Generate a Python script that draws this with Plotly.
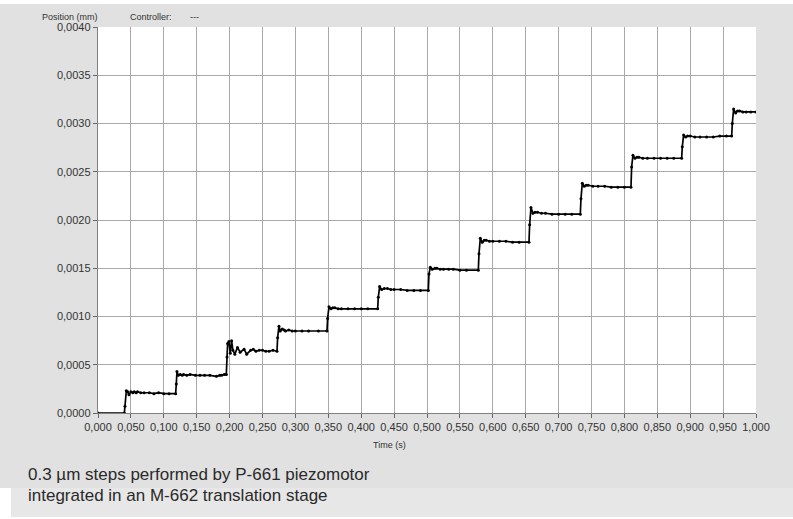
import plotly.graph_objects as go

# ---- data (time in s, position in mm) ----
time_s = [
    0.000, 0.040, 0.041, 0.043, 0.045, 0.047, 0.050, 0.053, 0.055, 0.058, 0.060, 0.065, 0.070, 0.078, 0.085, 0.092, 0.100, 0.108, 0.118,
    0.119, 0.120, 0.122, 0.125, 0.128, 0.130, 0.135, 0.140, 0.148, 0.155, 0.162, 0.170, 0.180, 0.185, 0.188, 0.192, 0.195,
    0.196, 0.197, 0.199, 0.201, 0.203, 0.205, 0.208, 0.212, 0.216, 0.222, 0.226, 0.232, 0.236, 0.240, 0.245, 0.250, 0.255, 0.260, 0.266, 0.272,
    0.273, 0.275, 0.277, 0.280, 0.283, 0.285, 0.290, 0.295, 0.300, 0.310, 0.320, 0.335, 0.348,
    0.349, 0.351, 0.354, 0.357, 0.360, 0.365, 0.370, 0.380, 0.390, 0.400, 0.410, 0.425,
    0.426, 0.428, 0.431, 0.435, 0.440, 0.445, 0.450, 0.460, 0.470, 0.480, 0.490, 0.502,
    0.503, 0.505, 0.508, 0.512, 0.515, 0.520, 0.525, 0.533, 0.540, 0.550, 0.560, 0.578,
    0.579, 0.581, 0.584, 0.587, 0.590, 0.595, 0.600, 0.610, 0.620, 0.630, 0.640, 0.655,
    0.656, 0.658, 0.661, 0.664, 0.668, 0.674, 0.680, 0.690, 0.700, 0.710, 0.720, 0.733,
    0.734, 0.736, 0.739, 0.742, 0.745, 0.752, 0.760, 0.770, 0.780, 0.790, 0.800, 0.810,
    0.811, 0.813, 0.816, 0.819, 0.822, 0.828, 0.835, 0.845, 0.855, 0.865, 0.875, 0.887,
    0.888, 0.890, 0.893, 0.896, 0.900, 0.907, 0.915, 0.925, 0.935, 0.945, 0.955, 0.963,
    0.964, 0.966, 0.969, 0.972, 0.975, 0.980, 0.985, 0.992, 1.000,
]
position_mm = [
    0.0, 0.0, 0.00007, 0.00023, 0.00022, 0.00019, 0.00022, 0.00021, 0.00022, 0.00021, 0.00022, 0.00021, 0.00021, 0.00021, 0.00020, 0.00021, 0.00020, 0.00020, 0.00020,
    0.00030, 0.00043, 0.00039, 0.00040, 0.00039, 0.00040, 0.00039, 0.00040, 0.00039, 0.00039, 0.00039, 0.00039, 0.00038, 0.00039, 0.00039, 0.00040, 0.00040,
    0.00058, 0.00072, 0.00074, 0.00062, 0.00075, 0.00065, 0.00061, 0.00068, 0.00063, 0.00066, 0.00061, 0.00065, 0.00066, 0.00064, 0.00065, 0.00065, 0.00064, 0.00064, 0.00065, 0.00064,
    0.00078, 0.00090, 0.00085, 0.00087, 0.00086, 0.00085, 0.00086, 0.00085, 0.00085, 0.00085, 0.00085, 0.00085, 0.00085,
    0.00098, 0.00110, 0.00108, 0.00109, 0.00109, 0.00108, 0.00108, 0.00108, 0.00108, 0.00108, 0.00108, 0.00108,
    0.00120, 0.00131, 0.00128, 0.00129, 0.00129, 0.00128, 0.00128, 0.00128, 0.00127, 0.00127, 0.00127, 0.00127,
    0.00144, 0.00151, 0.00149, 0.00150, 0.00150, 0.00149, 0.00149, 0.00149, 0.00149, 0.00148, 0.00148, 0.00148,
    0.00165, 0.00181, 0.00177, 0.00179, 0.00179, 0.00178, 0.00178, 0.00178, 0.00178, 0.00177, 0.00177, 0.00177,
    0.00195, 0.00213, 0.00207, 0.00208, 0.00208, 0.00207, 0.00207, 0.00206, 0.00206, 0.00206, 0.00206, 0.00206,
    0.00222, 0.00238, 0.00235, 0.00236, 0.00236, 0.00235, 0.00235, 0.00235, 0.00234, 0.00234, 0.00234, 0.00234,
    0.00255, 0.00267, 0.00264, 0.00265, 0.00265, 0.00264, 0.00264, 0.00264, 0.00264, 0.00264, 0.00264, 0.00264,
    0.00276, 0.00288, 0.00286, 0.00287, 0.00287, 0.00286, 0.00286, 0.00286, 0.00286, 0.00287, 0.00287, 0.00287,
    0.00300, 0.00315, 0.00311, 0.00313, 0.00313, 0.00312, 0.00312, 0.00312, 0.00312,
]

x_ticks = [0.05 * i for i in range(21)]
y_ticks = [0.0005 * i for i in range(9)]

W, H = 793, 519
L, R, T, B = 98, 37, 27, 106
PW, PH = W - L - R, H - T - B


def px(xp):
    return (xp - L) / PW


def py(yp):
    return (H - B - yp) / PH


fig = go.Figure()
fig.add_trace(go.Scatter(
    x=time_s, y=position_mm, mode="lines+markers",
    line=dict(color="black", width=1.7, shape="linear"),
    marker=dict(color="black", size=3),
    hoverinfo="skip", showlegend=False,
))

tick_font = dict(family="Liberation Sans, Arial, sans-serif", size=11, color="#333333")

fig.update_xaxes(
    range=[0, 1.0], tickvals=x_ticks, tickformat=".3f",
    showgrid=True, gridcolor="#a9a9a9", gridwidth=1.4,
    showline=True, linecolor="#808080", linewidth=1.4,
    ticks="outside", ticklen=4, tickcolor="#666666", tickwidth=1,
    tickfont=tick_font, zeroline=False, fixedrange=True,
)
fig.update_yaxes(
    range=[0, 0.0040], tickvals=y_ticks, tickformat=".4f",
    showgrid=True, gridcolor="#a9a9a9", gridwidth=1.4,
    showline=True, linecolor="#808080", linewidth=1.4,
    ticks="outside", ticklen=4, tickcolor="#666666", tickwidth=1,
    tickfont=tick_font, zeroline=False, fixedrange=True,
)

shapes = [
    # grey chart panel
    dict(type="rect", xref="paper", yref="paper", x0=px(0), x1=px(W), y0=py(4), y1=py(488),
         fillcolor="#e1e1e1", line=dict(width=0), layer="below"),
    # lighter caption band
    dict(type="rect", xref="paper", yref="paper", x0=px(11), x1=px(W), y0=py(488), y1=py(517),
         fillcolor="#e7e7e7", line=dict(width=0), layer="below"),
    # white plotting area
    dict(type="rect", xref="paper", yref="paper", x0=0, x1=1, y0=0, y1=1,
         fillcolor="white", line=dict(width=0), layer="below"),
]

small = dict(family="Liberation Sans, Arial, sans-serif", size=9, color="#333333")
cap = dict(family="Liberation Sans, Arial, sans-serif", size=17, color="#2a2a2a")
annotations = [
    dict(text="Position (mm)", x=px(40), y=py(17), xref="paper", yref="paper",
         xanchor="left", yanchor="middle", showarrow=False, font=small),
    dict(text="Controller:", x=px(128), y=py(17), xref="paper", yref="paper",
         xanchor="left", yanchor="middle", showarrow=False, font=small),
    dict(text="---", x=px(188), y=py(17), xref="paper", yref="paper",
         xanchor="left", yanchor="middle", showarrow=False, font=small),
    dict(text="Time (s)", x=px(389), y=py(445), xref="paper", yref="paper",
         xanchor="center", yanchor="middle", showarrow=False, font=small),
    dict(text="0.3 µm steps performed by P-661 piezomotor", x=px(26), y=py(475),
         xref="paper", yref="paper", xanchor="left", yanchor="middle", showarrow=False, font=cap),
    dict(text="integrated in an M-662 translation stage", x=px(26), y=py(496),
         xref="paper", yref="paper", xanchor="left", yanchor="middle", showarrow=False, font=cap),
]

fig.update_layout(
    width=W, height=H,
    margin=dict(l=L, r=R, t=T, b=B, pad=0),
    paper_bgcolor="white", plot_bgcolor="white",
    separators=",.",
    shapes=shapes, annotations=annotations,
)

fig.write_html("out.html", include_plotlyjs=True, config={"displayModeBar": False},
               post_script="document.body.style.margin='0';document.body.style.overflow='hidden';")
